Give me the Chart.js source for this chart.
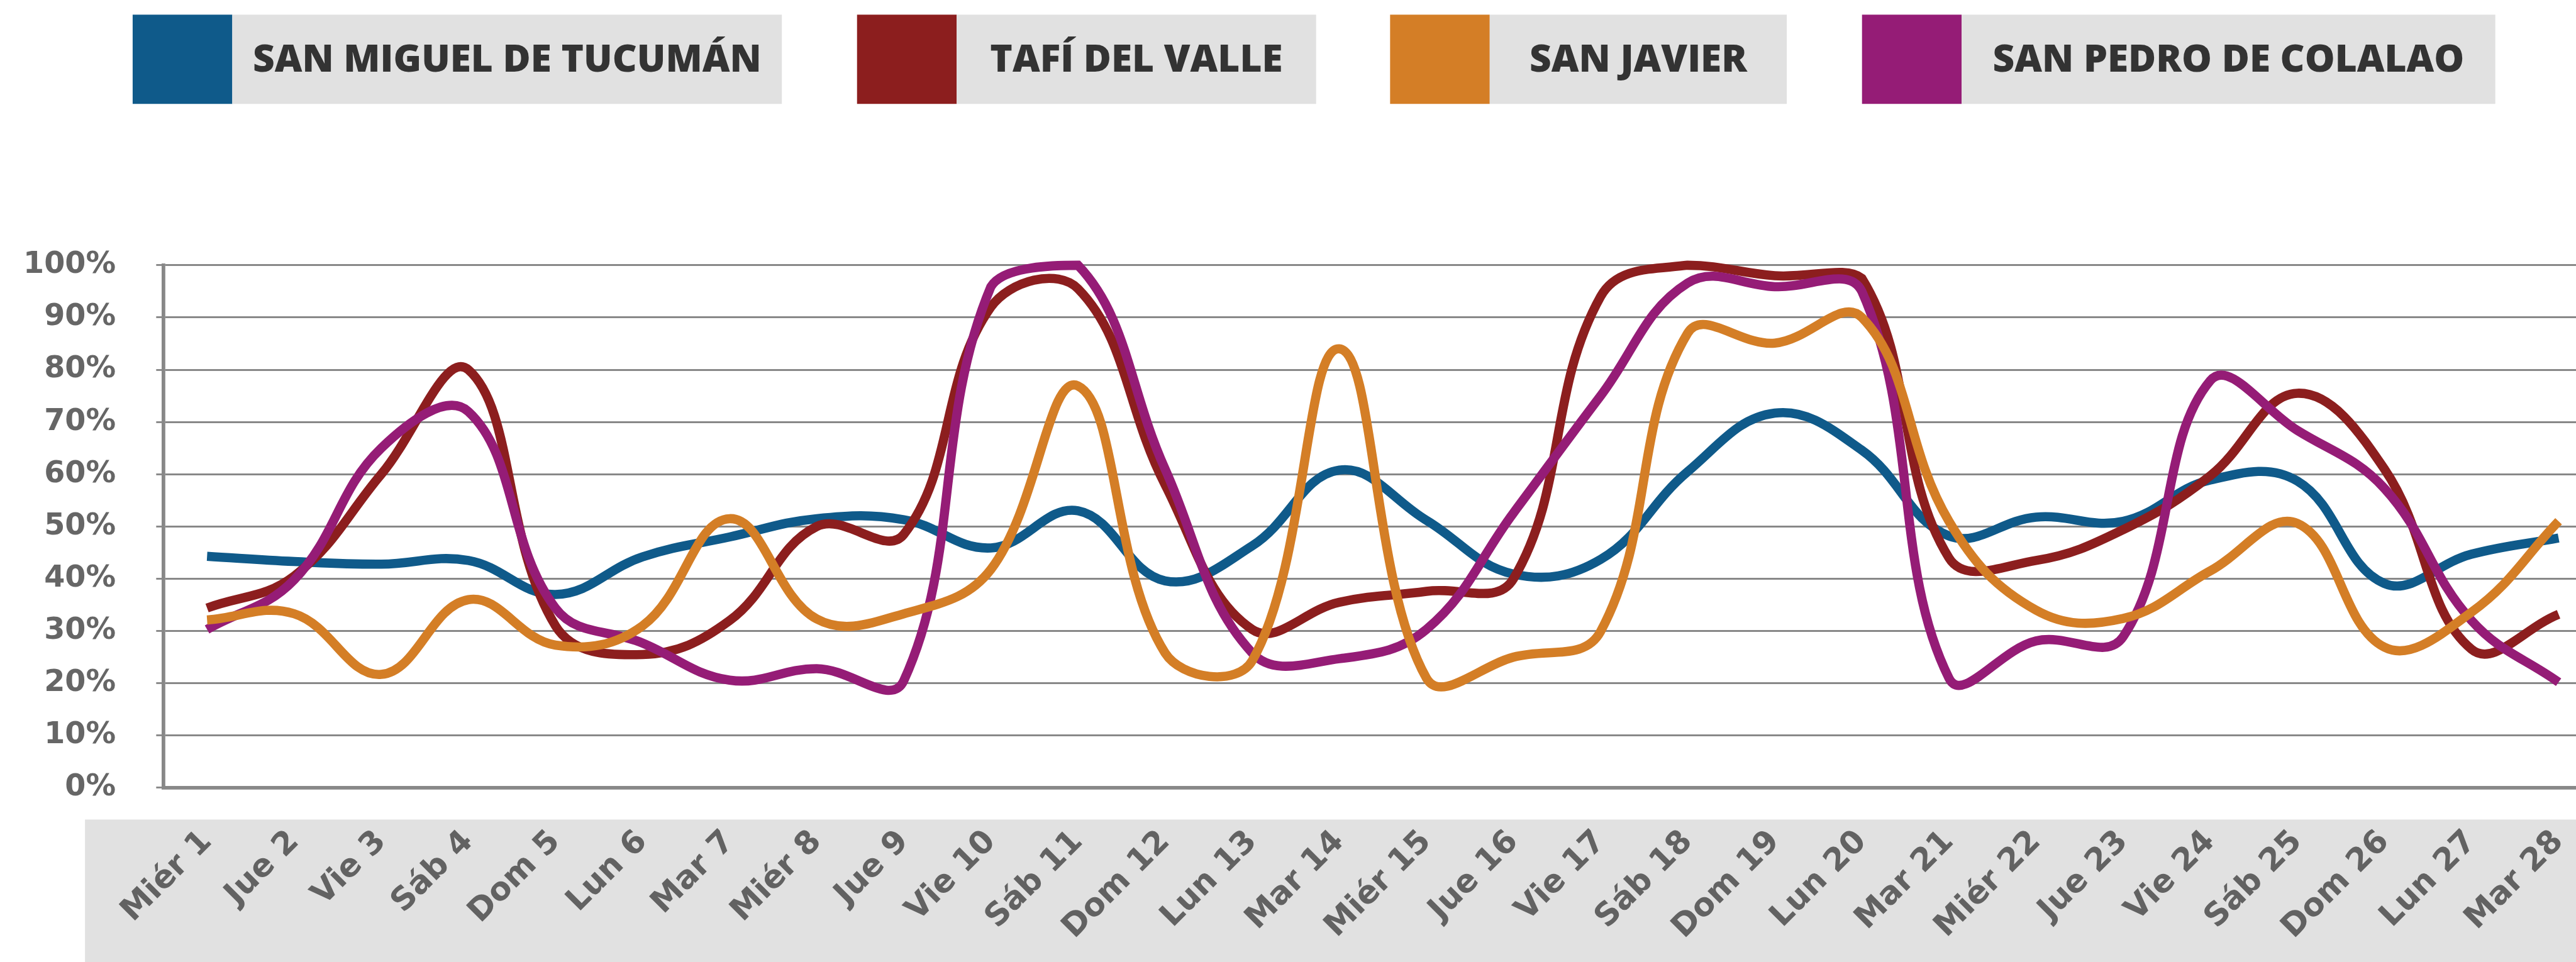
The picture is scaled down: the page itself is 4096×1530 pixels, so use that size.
<!DOCTYPE html>
<html>
<head>
<meta charset="utf-8">
<script src="https://cdn.jsdelivr.net/npm/chart.js@4.4.0/dist/chart.umd.min.js"></script>
<style>
html, body { margin: 0; padding: 0; background: #fff; overflow: hidden; }
#wrap { width: 4160px; height: 1530px; position: relative; }
</style>
</head>
<body>
<div id="wrap"><canvas id="lineChart"></canvas></div>
<script>
// Data
var days = ["Miér 1", "Jue 2", "Vie 3", "Sáb 4", "Dom 5", "Lun 6", "Mar 7", "Miér 8", "Jue 9", "Vie 10",
	"Sáb 11", "Dom 12", "Lun 13", "Mar 14", "Miér 15", "Jue 16", "Vie 17", "Sáb 18", "Dom 19", "Lun 20",
	"Mar 21", "Miér 22", "Jue 23", "Vie 24", "Sáb 25", "Dom 26", "Lun 27", "Mar 28"];
var seriesNames = ["SAN MIGUEL DE TUCUMÁN", "TAFÍ DEL VALLE", "SAN JAVIER", "SAN PEDRO DE COLALAO"];
var tucuman = [44.3, 43.3, 42.8, 43.5, 37, 44.2, 48, 51.5, 51.3, 45.9, 53, 39.6, 46.3, 60.8,
	51.2, 40.9, 43.7, 60.5, 71.7, 64.6, 48.2, 51.8, 51, 58.9, 58.7, 39.1, 44.7, 47.8];
var tafi = [34.4, 40.5, 60, 80, 31, 25.5, 32, 50, 48.5, 92, 95.5, 58, 30.3, 35.5,
	37.6, 40, 94, 100, 98, 97.5, 44, 43.5, 49.4, 59.7, 75.5, 61, 26.5, 33.2];
var sanJavier = [32.1, 33.3, 21.7, 36, 27.3, 31, 51.5, 32.3, 33.3, 41.8, 76.9, 25.8, 24.3, 84,
	21, 25, 29.9, 87, 85.1, 90, 51, 34, 32.4, 41.5, 50.6, 26.9, 33.6, 51];
var sanPedro = [30.3, 39.8, 65, 72, 34.4, 27.7, 20.6, 22.8, 20.5, 95.9, 100, 61, 25.8, 24.7,
	30.3, 52.6, 75, 96.6, 95.9, 95, 21, 28.1, 28.9, 77.9, 68.4, 57.3, 32, 20.2];
var colors = ["#0f5a8a", "#8c1e1e", "#d47e26", "#951c76"];

var S = 0.972;

// gray band behind the day labels
var bandPlugin = {
	id: 'band',
	beforeDraw: function (chart) {
		var ctx = chart.ctx;
		var top = chart.scales.x.top + 52 * S;
		ctx.save();
		ctx.fillStyle = '#e1e1e1';
		ctx.fillRect(139 * S, top, chart.width, chart.height - top);
		ctx.restore();
	}
};

// boxed legend on top: colour swatch + grey label box
var legendLeft = [217, 1402, 2274, 3046];
var legendBoxW = [899, 588, 486, 873];
var legendPlugin = {
	id: 'boxLegend',
	afterDraw: function (chart) {
		var ctx = chart.ctx;
		var y = 24 * S, h = 146 * S, sw = 163 * S;
		ctx.save();
		ctx.font = '800 ' + (62 * S) + 'px "Open Sans"';
		ctx.textBaseline = 'alphabetic';
		ctx.textAlign = 'center';
		chart.data.datasets.forEach(function (ds, i) {
			var x = legendLeft[i] * S, w = legendBoxW[i] * S;
			ctx.fillStyle = ds.borderColor;
			ctx.fillRect(x, y, sw, h);
			ctx.fillStyle = '#e1e1e1';
			ctx.fillRect(x + sw, y, w, h);
			ctx.fillStyle = '#333333';
			ctx.fillText(ds.label, x + sw + w / 2, y + 93 * S);
		});
		ctx.restore();
	}
};

function line(label, data, color, order) {
	return {
		label: label,
		data: data,
		borderColor: color,
		backgroundColor: color,
		borderWidth: 15 * S,
		pointRadius: 0,
		tension: 0.4,
		fill: false,
		clip: 20,
		order: order
	};
}

var ctx = document.getElementById('lineChart').getContext('2d');
new Chart(ctx, {
	type: 'line',
	data: {
		labels: days,
		datasets: [
			line(seriesNames[0], tucuman, colors[0], 4),
			line(seriesNames[1], tafi, colors[1], 3),
			line(seriesNames[2], sanJavier, colors[2], 1),
			line(seriesNames[3], sanPedro, colors[3], 2)
		]
	},
	options: {
		responsive: true,
		maintainAspectRatio: false,
		devicePixelRatio: 1,
		animation: false,
		events: [],
		layout: {
			padding: { top: 434 * S, left: 0, right: 11, bottom: 0 }
		},
		plugins: {
			legend: { display: false },
			tooltip: { enabled: false }
		},
		scales: {
			x: {
				offset: true,
				grid: { display: false },
				border: { display: true, color: '#888888', width: 6 * S },
				ticks: {
					autoSkip: false,
					minRotation: 45,
					maxRotation: 45,
					padding: 50 * S,
					color: '#626262',
					font: { family: 'DejaVu Sans', weight: 'bold', size: 52 * S }
				},
				afterFit: function (scale) { scale.height = 1530 - 1289 * S; }
			},
			y: {
				min: 0,
				max: 100,
				grid: { color: '#888888', lineWidth: 3 * S, tickLength: 12 * S, drawTicks: true },
				border: { display: true, color: '#888888', width: 6 * S },
				ticks: {
					stepSize: 10,
					padding: 66 * S,
					color: '#666666',
					font: { family: 'DejaVu Sans', weight: 'bold', size: 49 * S },
					callback: function (v) { return v + '%'; }
				},
				afterFit: function (scale) { scale.width = 267.5 * S; }
			}
		}
	},
	plugins: [bandPlugin, legendPlugin]
});
</script>
</body>
</html>
